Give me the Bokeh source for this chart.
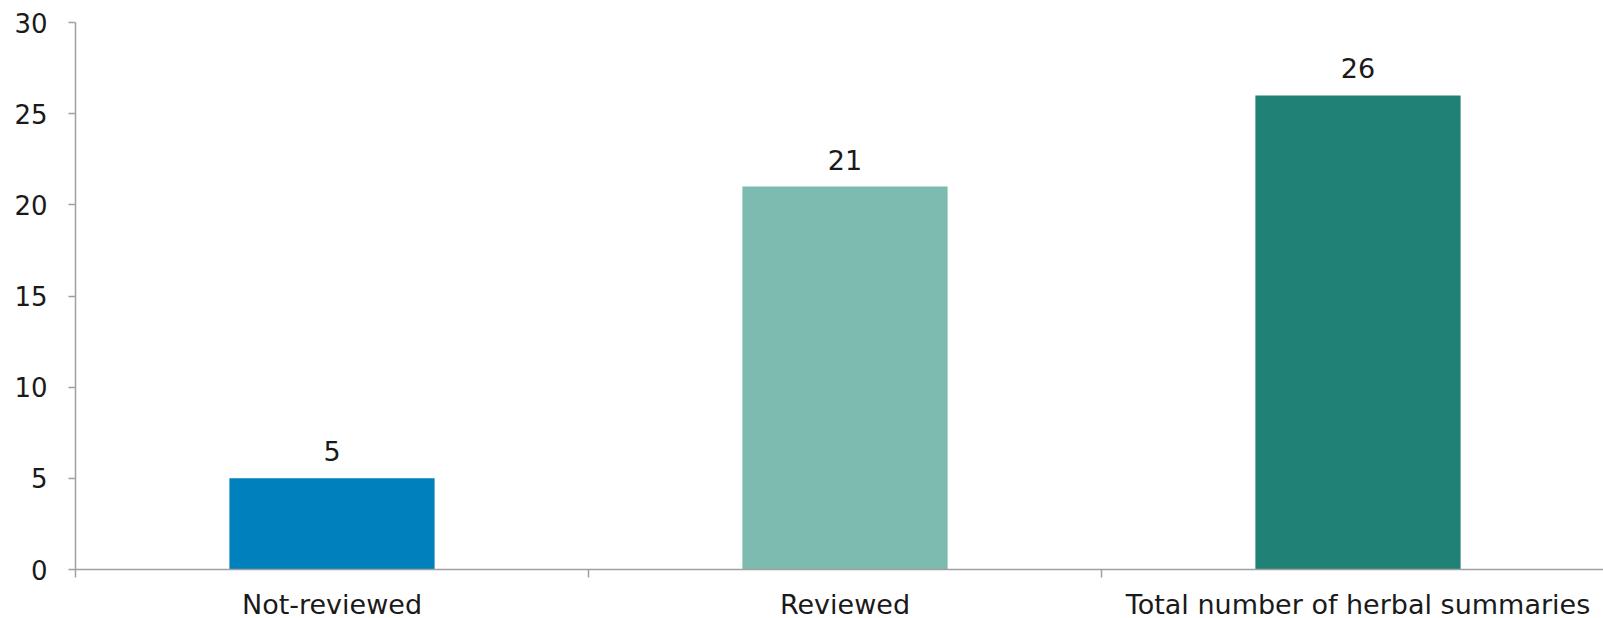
from bokeh.plotting import figure
from bokeh.models import ColumnDataSource, FixedTicker, Range1d
from bokeh.embed import file_html
from bokeh.resources import INLINE
from bokeh.core.properties import value

# Herbal summaries by review status
categories = ["Not-reviewed", "Reviewed", "Total number of herbal summaries"]
counts = [5, 21, 26]
bar_colors = ["#0081bd", "#7dbab0", "#208276"]
y_ticks = [0, 5, 10, 15, 20, 25, 30]

FONT = "DejaVu Sans"
TEXT_COLOR = "#1a1a1a"
AXIS_COLOR = "#a0a0a0"

centers = [i + 0.5 for i in range(len(categories))]
source = ColumnDataSource(data=dict(
    x=centers,
    count=counts,
    label=[str(c) for c in counts],
    color=bar_colors,
))

p = figure(
    frame_width=1528, frame_height=547,
    min_border_left=75, min_border_right=0,
    min_border_top=22, min_border_bottom=40,
    x_range=Range1d(0, 1528 / 513),
    y_range=Range1d(0, 30),
    output_backend="svg", toolbar_location=None,
)

p.vbar(x="x", top="count", width=0.4, color="color", line_color=None, source=source)

p.text(x="x", y="count", text="label", source=source,
       text_align="center", text_baseline="alphabetic", y_offset=-27,
       text_font=value(FONT), text_font_size="27px", text_color=TEXT_COLOR)

# x axis: category labels at centres, short ticks at category boundaries
xa = p.xaxis[0]
xa.ticker = FixedTicker(ticks=centers, minor_ticks=[0, 1, 2, 3])
xa.major_label_overrides = {c: name for c, name in zip(centers, categories)}
xa.major_tick_line_color = None
xa.major_tick_out = 0
xa.major_tick_in = 0
xa.minor_tick_line_color = AXIS_COLOR
xa.minor_tick_line_width = 1.5
xa.minor_tick_out = 8
xa.minor_tick_in = 0
xa.major_label_standoff = 11
xa.major_label_text_font_size = "27px"

ya = p.yaxis[0]
ya.ticker = FixedTicker(ticks=y_ticks)
ya.major_tick_out = 7
ya.major_tick_in = 0
ya.major_tick_line_color = AXIS_COLOR
ya.major_tick_line_width = 1.5
ya.minor_tick_line_color = None
ya.major_label_standoff = 21
ya.major_label_text_font_size = "26px"

for ax in (xa, ya):
    ax.axis_line_color = AXIS_COLOR
    ax.axis_line_width = 1.5
    ax.major_label_text_font = FONT
    ax.major_label_text_color = TEXT_COLOR

p.xgrid.grid_line_color = None
p.ygrid.grid_line_color = None
p.outline_line_color = None
p.background_fill_color = "white"
p.border_fill_color = "white"

open("out.html", "w").write(file_html(p, INLINE))
